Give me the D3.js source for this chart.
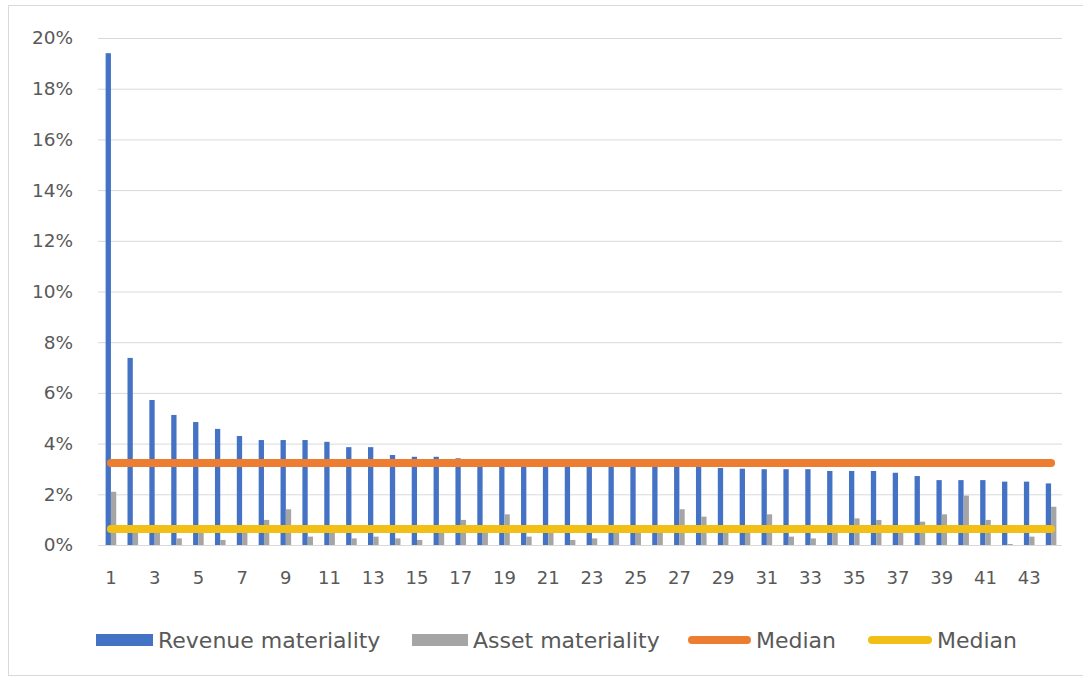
<!DOCTYPE html>
<html>
<head>
<meta charset="utf-8">
<script src="https://cdn.jsdelivr.net/npm/d3@7"></script>
<style>
  html, body { margin: 0; padding: 0; background: #fff; }
  svg { display: block; }
  text { font-family: "DejaVu Sans", sans-serif; fill: #595959; }
</style>
</head>
<body>
<svg id="chart" width="1083" height="679"></svg>
<script>
// ---- Data (values as fractions) ----
const categories = d3.range(1, 45);
const revenueMateriality = [
  0.194, 0.0738, 0.0572, 0.0513, 0.0485, 0.0458, 0.0430, 0.0414, 0.0414, 0.0414,
  0.0407, 0.0386, 0.0386, 0.0355, 0.0348, 0.0348, 0.0342, 0.0338, 0.0335, 0.0332,
  0.0330, 0.0326, 0.0322, 0.0320, 0.0318, 0.0315, 0.0312, 0.0308, 0.0304, 0.0301,
  0.0299, 0.0299, 0.0299, 0.0292, 0.0292, 0.0292, 0.0285, 0.0272, 0.0256, 0.0256,
  0.0256, 0.0250, 0.0250, 0.0243
];
const assetMateriality = [
  0.0210, 0.0070, 0.0065, 0.0026, 0.0068, 0.0020, 0.0072, 0.0099, 0.0141, 0.0033,
  0.0060, 0.0026, 0.0033, 0.0026, 0.0020, 0.0066, 0.0099, 0.0058, 0.0121, 0.0033,
  0.0055, 0.0020, 0.0026, 0.0060, 0.0070, 0.0055, 0.0141, 0.0112, 0.0064, 0.0070,
  0.0121, 0.0033, 0.0026, 0.0066, 0.0105, 0.0099, 0.0062, 0.0092, 0.0121, 0.0195,
  0.0099, 0.0004, 0.0033, 0.0151
];
const revenueMedian = 0.0323;
const assetMedian = 0.0063;
const yTicks = [0, 0.02, 0.04, 0.06, 0.08, 0.10, 0.12, 0.14, 0.16, 0.18, 0.20];
const xTickLabels = categories.filter(d => d % 2 === 1);
const legendLabels = ["Revenue materiality", "Asset materiality", "Median", "Median"];

const colors = { rev: "#4472C4", asset: "#A5A5A5", medRev: "#ED7D31", medAsset: "#F2BF17" };

// ---- Layout ----
const svg = d3.select("#chart");
const W = 1083, H = 679;
const plot = { left: 100, right: 1062, top: 38, bottom: 545 };

svg.append("rect").attr("x", 0).attr("y", 0).attr("width", W).attr("height", H).attr("fill", "#fff");
svg.append("rect").attr("x", 8.5).attr("y", 5.5).attr("width", 1082).attr("height", 670)
  .attr("fill", "none").attr("stroke", "#d9d9d9").attr("stroke-width", 1);

const y = d3.scaleLinear().domain([0, 0.2]).range([plot.bottom, plot.top]);
const x = d3.scaleBand().domain(categories).range([plot.left, plot.right]).paddingInner(0.515).paddingOuter(0.2575);
const xInner = d3.scaleBand().domain(["rev", "asset"]).range([0, x.bandwidth()]);

// Gridlines + y labels via axis
const yAxis = d3.axisLeft(y).tickValues(yTicks).tickFormat(d3.format(".0%"))
  .tickSize(-(plot.right - plot.left + 2)).tickPadding(25);
const gy = svg.append("g").attr("transform", `translate(${plot.left - 2},0)`).call(yAxis);
gy.select(".domain").remove();
gy.selectAll(".tick line").attr("stroke", "#d9d9d9").attr("stroke-width", 1);
gy.selectAll(".tick text").attr("font-size", 18.5).attr("fill", "#595959")
  .style("font-family", "'DejaVu Sans', sans-serif");

// Bars
const g = svg.append("g");
g.selectAll("rect.rev").data(categories).join("rect").attr("class", "rev")
  .attr("x", d => x(d) + xInner("rev"))
  .attr("width", xInner.bandwidth())
  .attr("y", (d, i) => y(revenueMateriality[i]))
  .attr("height", (d, i) => y(0) - y(revenueMateriality[i]))
  .attr("fill", colors.rev);
g.selectAll("rect.asset").data(categories).join("rect").attr("class", "asset")
  .attr("x", d => x(d) + xInner("asset"))
  .attr("width", xInner.bandwidth())
  .attr("y", (d, i) => y(assetMateriality[i]))
  .attr("height", (d, i) => y(0) - y(assetMateriality[i]))
  .attr("fill", colors.asset);

// Median lines
const cx = d => x(d) + x.bandwidth() / 2;
const line = d3.line().x(d => cx(d[0])).y(d => y(d[1]));
[[revenueMedian, colors.medRev], [assetMedian, colors.medAsset]].forEach(([m, c]) => {
  svg.append("path")
    .attr("d", line(categories.map(d => [d, m])))
    .attr("fill", "none").attr("stroke", c).attr("stroke-width", 8).attr("stroke-linecap", "round");
});

// X axis labels
const xAxis = d3.axisBottom(x).tickValues(xTickLabels).tickSize(0).tickPadding(26);
const gx = svg.append("g").attr("transform", `translate(0,${plot.bottom})`).call(xAxis);
gx.select(".domain").remove();
gx.selectAll(".tick text").attr("font-size", 18).attr("fill", "#595959")
  .style("font-family", "'DejaVu Sans', sans-serif");

// Legend
const legY = 640;
const leg = svg.append("g");
const items = [
  { type: "rect", x0: 96, x1: 153, tx: 158, color: colors.rev, label: legendLabels[0] },
  { type: "rect", x0: 412, x1: 468, tx: 473, color: colors.asset, label: legendLabels[1] },
  { type: "line", x0: 688, x1: 751, tx: 756, color: colors.medRev, label: legendLabels[2] },
  { type: "line", x0: 868, x1: 932, tx: 937, color: colors.medAsset, label: legendLabels[3] }
];
items.forEach(it => {
  if (it.type === "rect") {
    leg.append("rect").attr("x", it.x0).attr("y", legY - 6).attr("width", it.x1 - it.x0).attr("height", 12).attr("fill", it.color);
  } else {
    leg.append("line").attr("x1", it.x0 + 4).attr("x2", it.x1 - 4).attr("y1", legY).attr("y2", legY)
      .attr("stroke", it.color).attr("stroke-width", 8).attr("stroke-linecap", "round");
  }
  leg.append("text").attr("x", it.tx).attr("y", legY).attr("dominant-baseline", "central")
    .attr("font-size", 22).text(it.label);
});
</script>
</body>
</html>
